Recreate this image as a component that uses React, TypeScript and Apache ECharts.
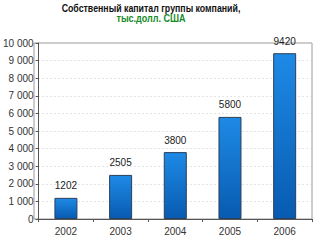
import React, { useEffect, useRef } from "react";
import * as echarts from "echarts";

const categories = ["2002", "2003", "2004", "2005", "2006"];
const values = [1202, 2505, 3800, 5800, 9420];
const titleLine1 = "Собственный капитал группы компаний,";
const titleLine2 = "тыс.долл. США";

const fmt = (v: number) => {
  const s = String(v);
  return s.length > 3 ? s.slice(0, s.length - 3) + " " + s.slice(-3) : s;
};

export default function App() {
  const ref = useRef<HTMLDivElement>(null);
  useEffect(() => {
    const chart = echarts.init(ref.current!, undefined, { renderer: "svg" });
    chart.setOption({
      animation: false,
      backgroundColor: "#ffffff",
      graphic: [
        {
          type: "text",
          x: 151,
          y: 8,
          scaleX: 0.88,
          style: {
            text: titleLine1,
            font: "bold 10px 'Liberation Sans', Arial, sans-serif",
            fill: "#111111",
            textAlign: "center",
            textVerticalAlign: "middle",
          },
        },
        {
          type: "text",
          x: 151,
          y: 18,
          scaleX: 0.9,
          style: {
            text: titleLine2,
            font: "bold 10px 'Liberation Sans', Arial, sans-serif",
            fill: "#168a28",
            textAlign: "center",
            textVerticalAlign: "middle",
          },
        },
        {
          type: "rect",
          shape: { x: 34, y: 43, width: 278, height: 176 },
          style: { fill: "none", stroke: "#9a9a9a", lineWidth: 1 },
          z: -1,
        },
      ],
      grid: { left: 34, right: 12, top: 43, bottom: 27 },
      xAxis: {
        type: "category",
        data: categories,
        axisLine: { lineStyle: { color: "#555555", width: 1 } },
        axisTick: { show: true, length: 3, lineStyle: { color: "#555555" } },
        axisLabel: {
          color: "#333333",
          fontSize: 10,
          fontFamily: "'Liberation Sans', Arial, sans-serif",
          margin: 7,
        },
      },
      yAxis: {
        type: "value",
        min: 0,
        max: 10000,
        interval: 1000,
        axisLine: { show: true, lineStyle: { color: "#555555", width: 1 } },
        axisTick: { show: true, length: 3, lineStyle: { color: "#555555" } },
        axisLabel: {
          color: "#333333",
          fontSize: 10,
          fontFamily: "'Liberation Sans', Arial, sans-serif",
          margin: 5,
          formatter: (v: number) => fmt(v),
        },
        splitLine: {
          show: true,
          lineStyle: { color: "#cccccc", type: [1, 3], width: 1 },
        },
      },
      series: [
        {
          type: "bar",
          data: values,
          barWidth: 23,
          itemStyle: {
            color: new echarts.graphic.LinearGradient(0, 0, 0, 1, [
              { offset: 0, color: "#1e8ae6" },
              { offset: 1, color: "#085bb0" },
            ]),
            borderColor: "#2a3f5a",
            borderWidth: 1,
          },
          label: {
            show: true,
            position: "top",
            distance: 7,
            color: "#222222",
            fontSize: 10,
            fontFamily: "'Liberation Sans', Arial, sans-serif",
          },
        },
      ],
    });
    return () => chart.dispose();
  }, []);
  return (
    <div
      ref={ref}
      style={{ position: "fixed", left: 0, top: 0, width: 324, height: 246 }}
    />
  );
}
